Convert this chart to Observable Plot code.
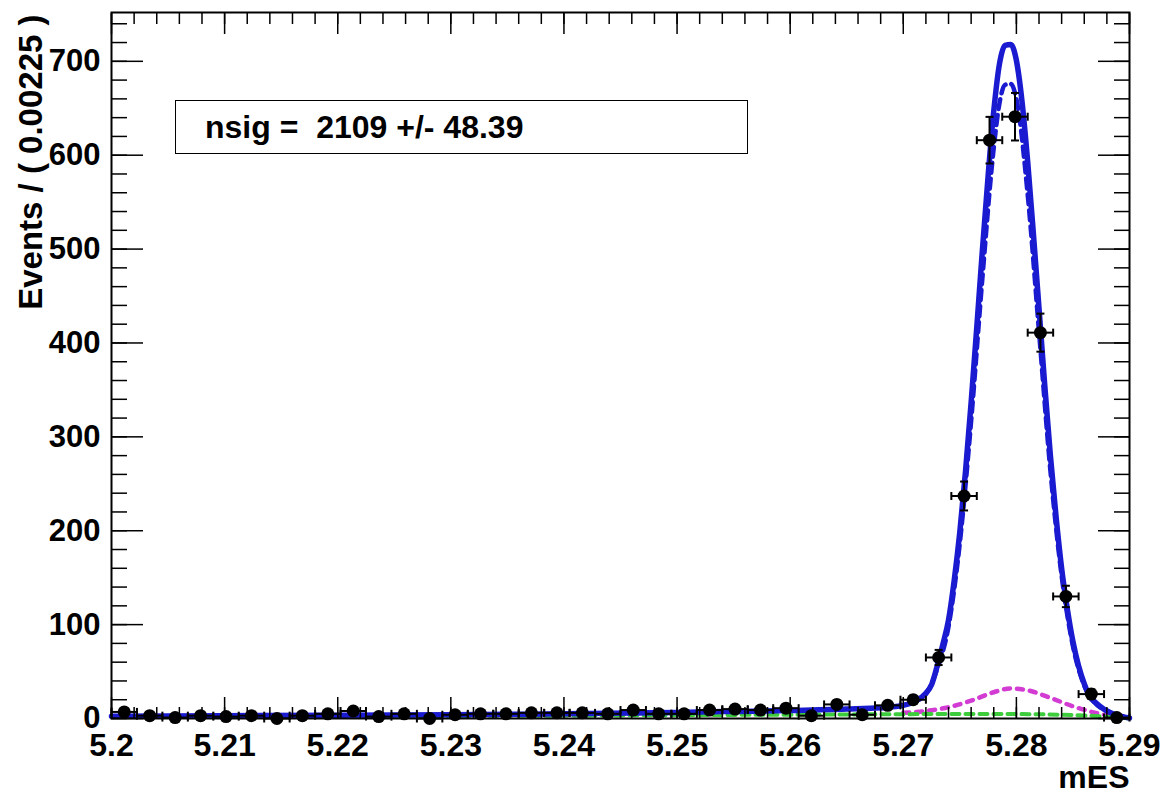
<!DOCTYPE html>
<html><head><meta charset="utf-8">
<script src="https://cdn.jsdelivr.net/npm/d3@7"></script>
<script src="https://cdn.jsdelivr.net/npm/@observablehq/plot@0.6"></script>
<style>
html,body{margin:0;padding:0;background:#fff;}
#wrap{position:relative;width:1161px;height:793px;overflow:hidden;}
#legend{position:absolute;left:175px;top:100px;width:573px;height:54px;box-sizing:border-box;border:1.5px solid #000;background:#fff;
  font:bold 32px "Liberation Sans",Arial,Helvetica,sans-serif;white-space:pre;display:flex;align-items:center;padding-left:29px;color:#000;}
</style></head><body><div id="wrap"><div id="legend"></div></div>
<script>
// ---- data ----
const binWidth = 0.00225;
const binCenters = [5.201125,5.203375,5.205625,5.207875,5.210125,5.212375,5.214625,5.216875,5.219125,5.221375,
  5.223625,5.225875,5.228125,5.230375,5.232625,5.234875,5.237125,5.239375,5.241625,5.243875,
  5.246125,5.248375,5.250625,5.252875,5.255125,5.257375,5.259625,5.261875,5.264125,5.266375,
  5.268625,5.270875,5.273125,5.275375,5.277625,5.279875,5.282125,5.284375,5.286625,5.288875];
const counts = [7,3,1,3,2,3,0,3,5,8,
  2,5,0,4,5,5,6,6,6,5,
  9,5,5,9,10,9,11,3,15,4,
  14,20,65,237,616,641,411,130,26,1];

// total fit (solid blue)
const fitX = [5.200,5.210,5.220,5.230,5.240,5.250,5.255,5.260,5.265,5.268,5.270,5.271,5.272,5.2725,5.273,5.2735,5.274,5.2745,5.275,5.2755,5.276,5.2765,5.277,5.2775,5.278,5.2785,5.279,5.2795,5.280,5.2805,5.281,5.2815,5.282,5.2825,5.283,5.2835,5.284,5.2845,5.285,5.2855,5.286,5.2865,5.287,5.2875,5.288,5.289,5.290];
const fitTotal = [2.5,3,3.5,4,5,6.5,7.5,8.5,10,11.5,14,18,27,36,56,79,105,147,199,263,337,417,500,578,647,697,717,718,701,657,593,517,437,356,281,216,160,117,82,56,37,23,17,12,8,3,0.5];

// dashed blue component
const dashX = [5.268,5.270,5.271,5.272,5.273,5.274,5.275,5.276,5.277,5.278,5.2785,5.279,5.2795,5.280,5.281,5.282,5.283,5.284,5.285,5.286,5.287,5.288,5.289,5.290];
const dashY = [11,14,18,26,53,98,187,317,470,608,655,675,676,660,558,412,265,152,77,35,16,8,3,0.5];

// magenta dotted component
const magX = [5.270,5.272,5.274,5.276,5.278,5.2795,5.281,5.283,5.285,5.287,5.288,5.289,5.290];
const magY = [6,8,12,19,28,32,30,22,13,6,3.5,1.5,0];

// green dashed background
const bkgX = [5.200,5.210,5.220,5.230,5.240,5.250,5.260,5.270,5.275,5.280,5.284,5.286,5.288,5.289,5.290];
const bkgY = [1.5,2,2.3,2.7,3.1,3.6,4.1,4.6,4.8,4.7,4.0,3.2,1.8,0.9,0];

// ticks
const xMajor = [5.20,5.21,5.22,5.23,5.24,5.25,5.26,5.27,5.28,5.29];
const xTickLabels = ["5.2","5.21","5.22","5.23","5.24","5.25","5.26","5.27","5.28","5.29"];
const yMajor = [0,100,200,300,400,500,600,700];
const yTickLabels = ["0","100","200","300","400","500","600","700"];

const yTitle = "Events / ( 0.00225 )";
const xTitle = "mES";
const legendText = "nsig =  2109 +/- 48.39";

// ---- build ----
const pts = binCenters.map((x, i) => ({
  x, n: counts[i],
  lo: counts[i] - Math.sqrt(counts[i]), hi: counts[i] + Math.sqrt(counts[i]),
  x1: x - binWidth / 2, x2: x + binWidth / 2
}));
const toXY = (xs, ys) => xs.map((x, i) => ({x, y: ys[i]}));
const fit = toXY(fitX, fitTotal), dash = toXY(dashX, dashY), mag = toXY(magX, magY), bkg = toXY(bkgX, bkgY);

const hCap = {draw(ctx, size) { const r = Math.sqrt(size / Math.PI); ctx.moveTo(-r, 0); ctx.lineTo(r, 0); }};
const vCap = {draw(ctx, size) { const r = Math.sqrt(size / Math.PI); ctx.moveTo(0, -r); ctx.lineTo(0, r); }};
const blank = () => "";
const lookup = (vals, labels) => d => { const i = vals.findIndex(v => Math.abs(v - d) < 1e-9); return i < 0 ? "" : labels[i]; };
const BLUE = "#1a1ad0";

const chart = Plot.plot({
  width: 1161, height: 793,
  marginLeft: 111, marginRight: 32, marginTop: 12, marginBottom: 75,
  style: {background: "white", fontFamily: "'Liberation Sans', Arial, Helvetica, sans-serif", fontWeight: "bold", fontSize: "30px", color: "black"},
  x: {domain: [5.2, 5.29]},
  y: {domain: [0, 752]},
  marks: [
    // curves
    Plot.line(mag, {x: "x", y: "y", stroke: "#d23cd2", strokeWidth: 4.5, strokeDasharray: "6,7", curve: "monotone-x"}),
    Plot.line(bkg, {x: "x", y: "y", stroke: "#3ccc3c", strokeWidth: 4, strokeDasharray: "8,6", curve: "monotone-x"}),
    Plot.line(dash, {x: "x", y: "y", stroke: BLUE, strokeWidth: 4.5, strokeDasharray: "10,6", curve: "monotone-x"}),
    Plot.line(fit, {x: "x", y: "y", stroke: BLUE, strokeWidth: 5.5, curve: "monotone-x"}),
    // data with error bars
    Plot.ruleX(pts, {x: "x", y1: "lo", y2: "hi", stroke: "black", strokeWidth: 2}),
    Plot.ruleY(pts, {y: "n", x1: "x1", x2: "x2", stroke: "black", strokeWidth: 2}),
    Plot.dot(pts, {x: "x", y: "hi", symbol: hCap, r: 4, stroke: "black", strokeWidth: 2, fill: "none"}),
    Plot.dot(pts, {x: "x", y: "lo", symbol: hCap, r: 4, stroke: "black", strokeWidth: 2, fill: "none"}),
    Plot.dot(pts, {x: "x1", y: "n", symbol: vCap, r: 4, stroke: "black", strokeWidth: 2, fill: "none"}),
    Plot.dot(pts, {x: "x2", y: "n", symbol: vCap, r: 4, stroke: "black", strokeWidth: 2, fill: "none"}),
    Plot.dot(pts, {x: "x", y: "n", r: 6.5, fill: "black", stroke: "none"}),
    // axes: ticks drawn inward on all four sides
    Plot.axisX({anchor: "bottom", ticks: 45, tickSize: -11, tickFormat: blank, label: null, strokeWidth: 1.5}),
    Plot.axisX({anchor: "bottom", ticks: xMajor, tickSize: -21, tickFormat: blank, label: null, strokeWidth: 1.5}),
    Plot.axisX({anchor: "top", ticks: 45, tickSize: -11, tickFormat: blank, label: null, strokeWidth: 1.5}),
    Plot.axisX({anchor: "top", ticks: xMajor, tickSize: -21, tickFormat: blank, label: null, strokeWidth: 1.5}),
    Plot.axisY({anchor: "left", ticks: 40, tickSize: -16, tickFormat: blank, label: null, strokeWidth: 1.5}),
    Plot.axisY({anchor: "left", ticks: yMajor, tickSize: -32, tickFormat: blank, label: null, strokeWidth: 1.5}),
    Plot.axisY({anchor: "right", ticks: 40, tickSize: -16, tickFormat: blank, label: null, strokeWidth: 1.5}),
    Plot.axisY({anchor: "right", ticks: yMajor, tickSize: -32, tickFormat: blank, label: null, strokeWidth: 1.5}),
    // tick labels
    Plot.axisX({anchor: "bottom", ticks: xMajor, tickSize: 0, tickPadding: 15, tickFormat: lookup(xMajor, xTickLabels), label: null, fontSize: 32, fontWeight: "bold"}),
    Plot.axisY({anchor: "left", ticks: yMajor, tickSize: 0, tickPadding: 11, tickFormat: lookup(yMajor, yTickLabels), label: null, fontSize: 31, fontWeight: "bold"}),
    // titles
    Plot.text([yTitle], {text: d => d, frameAnchor: "top-left", rotate: -90, textAnchor: "end", dx: -93, dy: 2, fontSize: 33, fontWeight: "bold", fill: "black"}),
    Plot.text([xTitle], {text: d => d, frameAnchor: "bottom-right", textAnchor: "end", dy: 69, fontSize: 32, fontWeight: "bold", fill: "black"}),
    Plot.frame({stroke: "black", strokeWidth: 2})
  ]
});
document.getElementById("wrap").prepend(chart);
document.getElementById("legend").textContent = legendText;
</script>
</body></html>
